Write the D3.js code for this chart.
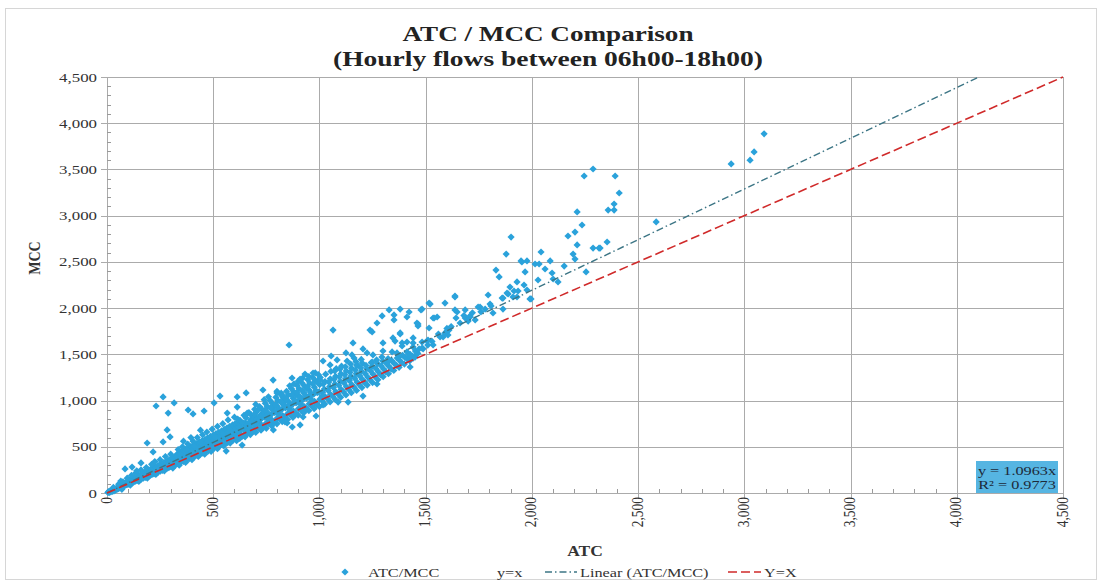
<!DOCTYPE html>
<html>
<head>
<meta charset="utf-8">
<script src="https://cdn.jsdelivr.net/npm/d3@7"></script>
<style>
  body { margin: 0; background: #fff; }
  svg { display: block; }
  text { font-family: "Liberation Serif", "Times New Roman", serif; fill: #333; }
</style>
</head>
<body>
<svg id="chart" width="1100" height="585"></svg>
<script>
// ---- data ----
var titleLines = ["ATC / MCC Comparison", "(Hourly flows between 06h00-18h00)"];
var xTitle = "ATC";
var yTitle = "MCC";
var axisTicks = [0, 500, 1000, 1500, 2000, 2500, 3000, 3500, 4000, 4500];
var legendLabels = ["ATC/MCC", "y=x", "Linear (ATC/MCC)", "Y=X"];
var trendSlope = 1.0963;
var rSquared = 0.9773;

// ATC, MCC pairs
var pointsLow = [
  [4,6],[8,15],[10,4],[14,22],[18,12],[22,28],[26,18],[30,36],[33,24],[37,42],[40,31],[44,52],[47,40],[51,60],
  [54,47],[58,68],[61,55],[64,80],[68,62],[71,88],[74,70],[78,96],[81,77],[84,108],[88,84],[91,118],[94,90],
  [98,125],[101,96],[104,138],[108,102],[111,145],[114,110],[118,158],[121,116],[124,132],[128,168],[131,124],
  [134,150],[138,178],[141,133],[144,160],[148,190],[151,142],[154,172],[158,200],[161,150],[164,183],[168,215],
  [171,160],[174,192],[178,226],[181,168],[184,204],[188,236],[191,178],[194,215],[198,248],[201,188],[204,226],
  [208,260],[211,198],[214,238],[218,272],[221,206],[224,250],[228,284],[231,216],[234,260],[238,296],[241,226],
  [244,270],[248,308],[251,236],[254,282],[258,318],[261,245],[264,294],[268,330],[271,255],[274,305],[278,342],
  [281,264],[284,316],[288,352],[291,274],[294,326],[298,364],[301,284],[304,338],[308,376],[311,294],[314,350],
  [317,388],
  [30,60],[55,95],[75,120],[95,160],[115,190],[135,215],[160,250],[185,275],[210,310],[225,340],[250,360],
  [275,395],[300,420],[70,40],[110,85],[150,125],[190,160],[230,200],[270,240],[310,270],[65,130],[140,240],
  [85,260],[118,281],[160,325],[189,541],[217,444],[264,552],[297,606],[283,682],[231,941],[264,1039],
  [288,865],[316,974]
];

var pointsMid = [
  [322,300],[324,345],[327,382],[330,420],[334,318],[337,358],[340,398],[344,440],[347,330],[350,372],[353,412],
  [357,458],[360,342],[363,386],[366,428],[370,472],[373,356],[376,400],[379,444],[383,488],[386,368],[389,414],
  [392,458],[396,502],[399,380],[402,428],[405,472],[409,518],[412,392],[415,442],[418,488],[422,534],[425,405],
  [428,456],[431,502],[435,550],[438,418],[441,470],[444,516],[448,566],[451,432],[454,484],[457,530],[461,580],
  [464,444],[467,498],[470,546],[474,596],[477,456],[480,512],[483,560],[487,612],[490,470],[493,526],[496,576],
  [500,626],[503,482],[506,540],[509,590],[513,642],[516,496],[519,554],[522,606],[526,656],[529,508],[532,568],
  [535,620],[539,672],[542,520],[545,582],[548,636],[552,688],[555,534],[558,596],[561,650],[565,704],[568,546],
  [571,610],[574,666],[578,720],[581,560],[584,624],[587,680],[591,736],[594,572],[597,638],[600,696],[604,752],
  [607,586],[610,652],[613,712],[617,768],
  [335,470],[355,500],[380,530],[405,560],[425,600],[450,630],[470,660],[495,690],[520,720],[545,750],[570,790],
  [600,820],[340,300],[370,330],[400,360],[430,395],[460,420],[490,450],[520,480],[550,510],[580,540],[610,565],
  [395,600],[440,680],[360,560],
  [330,395],[365,440],[400,490],[435,530],[470,575],[505,620],[540,660],[575,700],[610,740],
  [318,330],[345,385],[372,420],[398,455],[425,480],[452,515],[478,540],[505,575],[532,600],[558,630],[585,660],
  [345,420],[375,470],[410,505],[440,545],[475,560],[510,600],[545,640],[580,680],
  [382,898],[405,855],[457,887],[504,974],[532,1049],[613,1039],[566,865],[613,930],[561,454],[636,519]
];

var pointsUpperMid = [
  [625,590],[627,640],[629,690],[623,735],[626,785],[650,608],[652,665],[648,712],[651,760],[654,815],
  [675,632],[677,688],[673,740],[676,792],[679,845],[700,655],[702,712],[698,768],[701,820],[704,878],
  [725,680],[727,738],[723,795],[726,850],[729,905],[750,700],[752,762],[748,822],[751,880],[754,938],
  [775,725],[777,788],[773,850],[776,908],[779,968],[800,748],[802,812],[798,876],[801,938],[804,1000],
  [825,772],[827,838],[823,905],[826,968],[829,1030],[850,795],[852,862],[848,932],[851,995],[854,1062],
  [875,818],[877,888],[873,958],[876,1025],[879,1095],[900,842],[902,914],[898,985],[901,1055],[904,1128],
  [925,866],[927,938],[923,1012],[926,1085],[929,1160],[950,890],[952,965],[948,1040],[951,1115],[954,1190],
  [975,912],[977,990],[973,1068],[976,1145],[979,1222],[1000,935],[1002,1015],[998,1095],[1001,1172],[1004,1250],
  [637,615],[662,700],[687,665],[712,750],[737,712],[762,800],[787,760],[812,845],[837,805],[862,900],[887,850],
  [912,960],[937,900],[962,1010],[987,955],[640,760],[690,820],[740,880],[790,940],[840,1000],[890,1060],
  [940,1130],[990,1200],
  [615,800],[645,840],[668,870],[695,905],[718,935],[745,970],[768,1000],[795,1035],[818,1065],[845,1100],
  [868,1130],[895,1165],[918,1190],[945,1225],[968,1250],[995,1280],[633,700],[658,740],[683,780],[708,800],
  [733,830],[758,860],[783,895],[808,915],[833,950],[858,975],[883,1005],[908,1030],[933,1060],[958,1085],
  [983,1110],
  [612,605],[618,668],[622,712],[640,700],[644,625],[663,650],[667,760],[671,715],[688,690],[692,745],[696,855],
  [713,700],[716,785],[720,830],[738,725],[741,820],[745,900],[762,750],[766,835],[770,920],[787,775],[790,870],
  [794,960],[812,800],[815,890],[819,985],[837,825],[840,920],[844,1015],[862,850],[865,945],[869,1060],[887,870],
  [890,975],[894,1090],[912,895],[915,1000],[919,1110],[937,920],[940,1025],[944,1150],[962,945],[965,1060],
  [969,1180],[987,968],[990,1085],[994,1215],
  [655,1082],[660,865],[783,682],[848,757],[872,714],[700,960],[740,1010],[820,1080],[860,1160],[900,1210],
  [950,1260],[980,1300],[760,1040],[880,1180],[920,1240],[710,900],[800,1100],[857,1601],[782,1222],[871,1244],
  [909,1233],[734,1114],[800,1082],[829,1049],[909,1039],[838,768],[909,736],[923,822],[932,909],[984,833],
  [970,1298],[932,1287]
];

var pointsHigh = [
  [1025,962],[1027,1042],[1023,1125],[1026,1205],[1029,1285],[1050,985],[1052,1068],[1048,1152],[1051,1235],
  [1054,1315],[1075,1010],[1077,1095],[1073,1180],[1076,1262],[1079,1345],[1100,1035],[1102,1120],[1098,1208],
  [1101,1290],[1104,1372],[1125,1060],[1127,1148],[1123,1235],[1126,1320],[1150,1085],[1152,1172],[1148,1262],
  [1151,1350],[1175,1110],[1177,1200],[1173,1290],[1176,1378],[1200,1140],[1202,1228],[1198,1318],[1201,1405],
  [1225,1168],[1227,1255],[1223,1345],[1250,1195],[1252,1285],[1248,1372],[1275,1225],[1277,1312],[1273,1400],
  [1300,1258],[1302,1340],[1298,1428],[1325,1290],[1327,1370],[1323,1455],[1350,1325],[1352,1402],[1375,1360],
  [1377,1435],[1400,1395],[1402,1468],[1425,1430],[1427,1500],[1450,1470],[1452,1535],
  [1012,1000],[1015,1090],[1018,1180],[1038,1020],[1041,1110],[1044,1200],[1063,1045],[1066,1140],[1069,1230],
  [1072,1320],[1088,1070],[1091,1165],[1094,1255],[1097,1340],[1113,1095],[1116,1190],[1119,1280],[1122,1365],
  [1138,1120],[1141,1215],[1144,1305],[1147,1395],[1163,1145],[1166,1240],[1169,1330],[1172,1420],[1188,1170],
  [1191,1265],[1194,1355],[1197,1445],[1213,1200],[1216,1290],[1219,1380],[1238,1225],[1241,1320],[1244,1410],
  [1263,1255],[1266,1345],[1269,1440],[1288,1280],[1291,1375],[1294,1470],[1313,1310],[1316,1400],[1338,1340],
  [1341,1430],[1363,1380],[1366,1460],[1388,1410],[1391,1490],[1413,1450],[1438,1480],[1463,1510],[1488,1560],
  [1510,1600],[1530,1640],
  [1055,1482],[1125,1515],[1205,1558],[1224,1515],[1252,1493],[1299,1536],[1342,1526],[1365,1515],[1412,1526],
  [1422,1482],[1459,1515],[1469,1558],[1017,1428],[1083,1439],[1130,1428],[1163,1460],[1177,1385],[1248,1417],
  [1323,1417],[1375,1471],[1050,1385],[1003,1222],[1144,1244],[1271,1179],[1215,1190],[1012,1049],[1088,984],
  [1135,984],[1205,1049],[1017,952],[1064,1763],[1158,1623],[1299,1623],[1346,1677],[1356,1644],[1389,1623],
  [1412,1633],[1441,1677],[1441,1623],[1238,1763],[1248,1742],[1380,1720],[1271,1839],[1328,1980],[1380,1990],
  [1422,1958],[1295,1915],[1351,1926],[1351,1872],[1412,1904],[1153,1493],[1380,1731],[1427,1363],[1441,1579],
  [1441,1460],[1389,1590]
];

var pointsSparse = [
  [1478,1980],[1521,2044],[1591,2055],[1535,1893],[1459,1839],[1464,1807],[1516,1785],[1483,1633],[1511,1655],
  [1568,1688],[1605,1709],[1516,2055],[1554,1904],[1582,1688],[1535,1601],[1483,1568],[1540,1893],[1464,1828],
  [1507,1644],[1591,1731],[1610,1763],[1643,1893],[1638,2120],[1648,1958],[1662,1839],[1686,1893],[1709,1915],
  [1733,1872],[1756,2012],[1803,2044],[1817,1947],[1860,2109],[1864,1990],[1888,2153],[1916,2185],[1930,2120],
  [1831,2412],[1846,2337],[1879,2585],[1902,2769],[1930,2283],[1953,2499],[1977,2510],[1968,2391],[1963,2250],
  [1996,2099],[2029,2304],[2043,2607],[2062,2423],[2095,2380],[2100,2315],[2123,2283],[2152,2455],[2170,2780],
  [2203,2823],[2213,3040],[2236,2899],[2194,2585],[2203,2531],[2213,2683],[2246,3429],[2288,3505],[2255,2391],
  [2288,2650],[2316,2650],[2354,2715],[2359,3061],[2387,3061],[2387,3126],[2392,3429],[2411,3245],[2585,2932],
  [2938,3560],[3027,3600],[3046,3690],[3093,3885],[1794,2142],[1638,2131],[1864,2109],[1883,2163],[1911,2120],
  [1991,2099],[1747,2012],[1808,2023],[1638,1980],[1686,1980],[1483,1990],[1709,1904],[1935,2185],[1897,2228],
  [1977,2196],[2015,2477],[2034,2477],[2086,2510],[1949,2510],[2321,2650],[1700,1860],[1720,1950],[1680,1920],
  [1760,1960],[1780,1990],[1620,1800],[1560,1720],[1600,1780]
];

var points = pointsLow.concat(pointsMid, pointsUpperMid, pointsHigh, pointsSparse);

// ---- drawing ----
var svg = d3.select("#chart");
var sx = 1.25; // the source text looks stretched sideways

var x = d3.scaleLinear().domain([0, 4500]).range([107, 1063]);
var y = d3.scaleLinear().domain([0, 4500]).range([493, 77]);

function label(g, px, py, str, anchor, size, bold, rot) {
  var t = "translate(" + px + "," + py + ") scale(" + sx + ",1)" + (rot ? " rotate(" + rot + ")" : "");
  return g.append("text")
    .attr("transform", t)
    .attr("text-anchor", anchor)
    .style("font-size", size + "px")
    .style("font-weight", bold ? "bold" : "normal")
    .text(str);
}

// outer frame
svg.append("rect").attr("x", 5.5).attr("y", 8.5).attr("width", 1091).attr("height", 571)
  .attr("fill", "none").attr("stroke", "#d6d6d6");

// title
titleLines.forEach(function(s, i) {
  svg.append("text")
    .attr("x", 548).attr("y", i == 0 ? 41 : 66)
    .attr("text-anchor", "middle")
    .attr("textLength", i == 0 ? 291 : 430)
    .attr("lengthAdjust", "spacingAndGlyphs")
    .style("font-size", "22px").style("font-weight", "bold").style("fill", "#222")
    .text(s);
});

// grid
var grid = svg.append("g").attr("stroke", "#ababab").attr("stroke-width", 1);
axisTicks.forEach(function(v) {
  grid.append("line").attr("x1", x(0) - 6).attr("x2", x(4500))
    .attr("y1", Math.round(y(v)) + 0.5).attr("y2", Math.round(y(v)) + 0.5);
  grid.append("line").attr("y1", y(4500)).attr("y2", y(0) + 6)
    .attr("x1", Math.round(x(v)) + 0.5).attr("x2", Math.round(x(v)) + 0.5);
});

// minor ticks every 100
var minor = svg.append("g").attr("stroke", "#9a9a9a");
d3.range(0, 4501, 100).forEach(function(v) {
  if (v % 500 == 0) return;
  minor.append("line").attr("x1", x(0)).attr("x2", x(0) + 4)
    .attr("y1", Math.round(y(v)) + 0.5).attr("y2", Math.round(y(v)) + 0.5);
  minor.append("line").attr("y1", y(0)).attr("y2", y(0) - 4)
    .attr("x1", Math.round(x(v)) + 0.5).attr("x2", Math.round(x(v)) + 0.5);
});

// tick labels
var fmt = d3.format(",");
axisTicks.forEach(function(v) {
  label(svg, 97, y(v) + 4.5, fmt(v), "end", 13.5, false);
  label(svg, x(v) + 4.5, 497, fmt(v), "end", 13.5, false, -90);
});

// axis titles
label(svg, 40, 258, yTitle, "middle", 14, true, -90);
label(svg, 585, 556, xTitle, "middle", 14, true);

// scatter points
var diamond = d3.symbol().type(d3.symbolSquare).size(26);
svg.append("g").selectAll("path")
  .data(points)
  .join("path")
  .attr("d", diamond)
  .attr("transform", function(d) { return "translate(" + x(d[0]) + "," + y(d[1]) + ") rotate(45)"; })
  .attr("fill", "#2aa2db");

// trend line and y = x
var line = d3.line().x(function(d) { return x(d[0]); }).y(function(d) { return y(d[1]); });
var trendEnd = 4500 / trendSlope;
svg.append("path")
  .attr("d", line([[0, 0], [trendEnd, trendEnd * trendSlope]]))
  .attr("fill", "none").attr("stroke", "#3c7585").attr("stroke-width", 1.4)
  .attr("stroke-dasharray", "7,3,1.5,3");
svg.append("path")
  .attr("d", line([[0, 0], [4500, 4500]]))
  .attr("fill", "none").attr("stroke", "#d02a2a").attr("stroke-width", 1.6)
  .attr("stroke-dasharray", "9,4");

// equation box
svg.append("rect").attr("x", 976).attr("y", 461).attr("width", 82).attr("height", 32)
  .attr("fill", "#56b5e2");
label(svg, 1017, 475, "y = " + trendSlope + "x", "middle", 13, false).style("fill", "#1d2a3a");
label(svg, 1017, 489, "R\u00b2 = " + rSquared, "middle", 13, false).style("fill", "#1d2a3a");

// legend
var ly = 572;
var leg = svg.append("g");
leg.append("path").attr("d", diamond)
  .attr("transform", "translate(345," + ly + ") rotate(45)").attr("fill", "#2aa2db");
label(leg, 368, ly + 4.5, legendLabels[0], "start", 13, false);
label(leg, 497, ly + 4.5, legendLabels[1], "start", 13, false);
leg.append("line").attr("x1", 545).attr("x2", 577).attr("y1", ly).attr("y2", ly)
  .attr("stroke", "#3c7585").attr("stroke-width", 1.4).attr("stroke-dasharray", "7,3,1.5,3");
label(leg, 580, ly + 4.5, legendLabels[2], "start", 13, false);
leg.append("line").attr("x1", 728).attr("x2", 761).attr("y1", ly).attr("y2", ly)
  .attr("stroke", "#d02a2a").attr("stroke-width", 1.6).attr("stroke-dasharray", "9,4");
label(leg, 764, ly + 4.5, legendLabels[3], "start", 13, false);
</script>
</body>
</html>
